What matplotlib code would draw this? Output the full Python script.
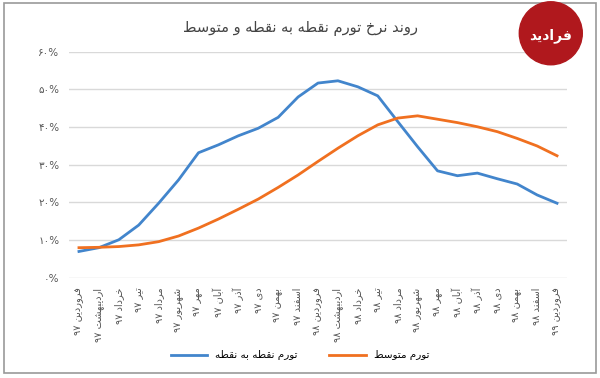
import matplotlib
matplotlib.use('Agg')
import matplotlib.pyplot as plt
from matplotlib.patches import Ellipse, Rectangle

# --- Persian shaping (no arabic_reshaper available) ---
FORMS = {
    'ا': ('\uFE8D', '\uFE8E', None, None),
    'آ': ('\uFE81', '\uFE82', None, None),
    'ب': ('\uFE8F', '\uFE90', '\uFE91', '\uFE92'),
    'ت': ('\uFE95', '\uFE96', '\uFE97', '\uFE98'),
    'خ': ('\uFEA5', '\uFEA6', '\uFEA7', '\uFEA8'),
    'د': ('\uFEA9', '\uFEAA', None, None),
    'ذ': ('\uFEAB', '\uFEAC', None, None),
    'ر': ('\uFEAD', '\uFEAE', None, None),
    'ز': ('\uFEAF', '\uFEB0', None, None),
    'س': ('\uFEB1', '\uFEB2', '\uFEB3', '\uFEB4'),
    'ش': ('\uFEB5', '\uFEB6', '\uFEB7', '\uFEB8'),
    'ط': ('\uFEC1', '\uFEC2', '\uFEC3', '\uFEC4'),
    'ف': ('\uFED1', '\uFED2', '\uFED3', '\uFED4'),
    'ق': ('\uFED5', '\uFED6', '\uFED7', '\uFED8'),
    'ل': ('\uFEDD', '\uFEDE', '\uFEDF', '\uFEE0'),
    'م': ('\uFEE1', '\uFEE2', '\uFEE3', '\uFEE4'),
    'ن': ('\uFEE5', '\uFEE6', '\uFEE7', '\uFEE8'),
    'ه': ('\uFEE9', '\uFEEA', '\uFEEB', '\uFEEC'),
    'و': ('\uFEED', '\uFEEE', None, None),
    'ی': ('\uFBFC', '\uFBFD', '\uFBFE', '\uFBFF'),
}
DUAL = {c for c, f in FORMS.items() if f[2] is not None}


def shape_word(w):
    if not any(c in FORMS for c in w):
        return w
    out = []
    for i, c in enumerate(w):
        if c not in FORMS:
            out.append(c)
            continue
        prev = w[i - 1] if i > 0 else None
        nxt = w[i + 1] if i + 1 < len(w) else None
        jp = prev in DUAL
        jn = c in DUAL and nxt in FORMS
        f = FORMS[c]
        if jp and jn:
            out.append(f[3])
        elif jp:
            out.append(f[1])
        elif jn:
            out.append(f[2])
        else:
            out.append(f[0])
    return ''.join(reversed(out))


def fa(text):
    return ' '.join(shape_word(w) for w in reversed(text.split(' ')))


# --- data ---
months = ['فروردین ۹۷', 'اردیبهشت ۹۷', 'خرداد ۹۷', 'تیر ۹۷', 'مرداد ۹۷', 'شهریور ۹۷',
          'مهر ۹۷', 'آبان ۹۷', 'آذر ۹۷', 'دی ۹۷', 'بهمن ۹۷', 'اسفند ۹۷',
          'فروردین ۹۸', 'اردیبهشت ۹۸', 'خرداد ۹۸', 'تیر ۹۸', 'مرداد ۹۸', 'شهریور ۹۸',
          'مهر ۹۸', 'آبان ۹۸', 'آذر ۹۸', 'دی ۹۸', 'بهمن ۹۸', 'اسفند ۹۸', 'فروردین ۹۹']
point_to_point = [7.0, 8.0, 10.1, 14.0, 19.8, 26.0, 33.2, 35.3, 37.7, 39.7, 42.6, 48.0,
                  51.7, 52.3, 50.7, 48.3, 41.5, 34.8, 28.4, 27.1, 27.8, 26.3, 24.9, 22.0, 19.8]
average = [8.0, 8.1, 8.3, 8.75, 9.6, 11.1, 13.2, 15.6, 18.2, 20.9, 24.0, 27.3,
           30.9, 34.4, 37.7, 40.6, 42.4, 43.0, 42.1, 41.2, 40.1, 38.8, 37.0, 35.0, 32.4]
yticks = [0, 10, 20, 30, 40, 50, 60]
ytick_labels = ['۰%', '۱۰%', '۲۰%', '۳۰%', '۴۰%', '۵۰%', '۶۰%']
title = 'روند نرخ تورم نقطه به نقطه و متوسط'
name_ptp = 'تورم نقطه به نقطه'
name_avg = 'تورم متوسط'

plt.rcParams['font.family'] = ['DejaVu Sans']

fig = plt.figure(figsize=(6, 3.78), dpi=100)
ax = fig.add_axes([0.115, 0.265, 0.83, 0.598])

x = list(range(len(months)))
ax.plot(x, point_to_point, color='#4285cc', lw=2.0, label=fa(name_ptp))
ax.plot(x, average, color='#f07020', lw=2.0, label=fa(name_avg))

ax.set_xlim(-0.5, len(months) - 0.5)
ax.set_ylim(0, 60)
ax.set_yticks(yticks)
ax.set_yticklabels(ytick_labels, fontsize=7.5, color='#555555')
ax.set_xticks(x)
ax.set_xticklabels([fa(m) for m in months], rotation=90, fontsize=7, color='#555555')
ax.tick_params(length=0, pad=7)
ax.yaxis.grid(True, color='#d9d9d9', lw=1)
ax.set_axisbelow(True)
for s in ax.spines.values():
    s.set_visible(False)

fig.text(0.5, 0.925, fa(title), ha='center', va='center', fontsize=10.5, color='#444444')

leg = fig.legend(loc='center', bbox_to_anchor=(0.5, 0.06), ncol=2, frameon=False,
                 fontsize=7.5, handlelength=3.5, columnspacing=3)

# outer frame
fig.patches.append(Rectangle((0.006, 0.014), 0.988, 0.978, transform=fig.transFigure,
                             fill=False, ec='#999999', lw=1.2))

# logo badge top right
fig.patches.append(Ellipse((0.918, 0.912), 0.105, 0.105 * 600 / 378,
                           transform=fig.transFigure, color='#b0181d'))
fig.text(0.918, 0.905, fa('فرادید'), ha='center', va='center', fontsize=10,
         color='white', fontweight='bold')

fig.savefig('out.png', dpi=100)
